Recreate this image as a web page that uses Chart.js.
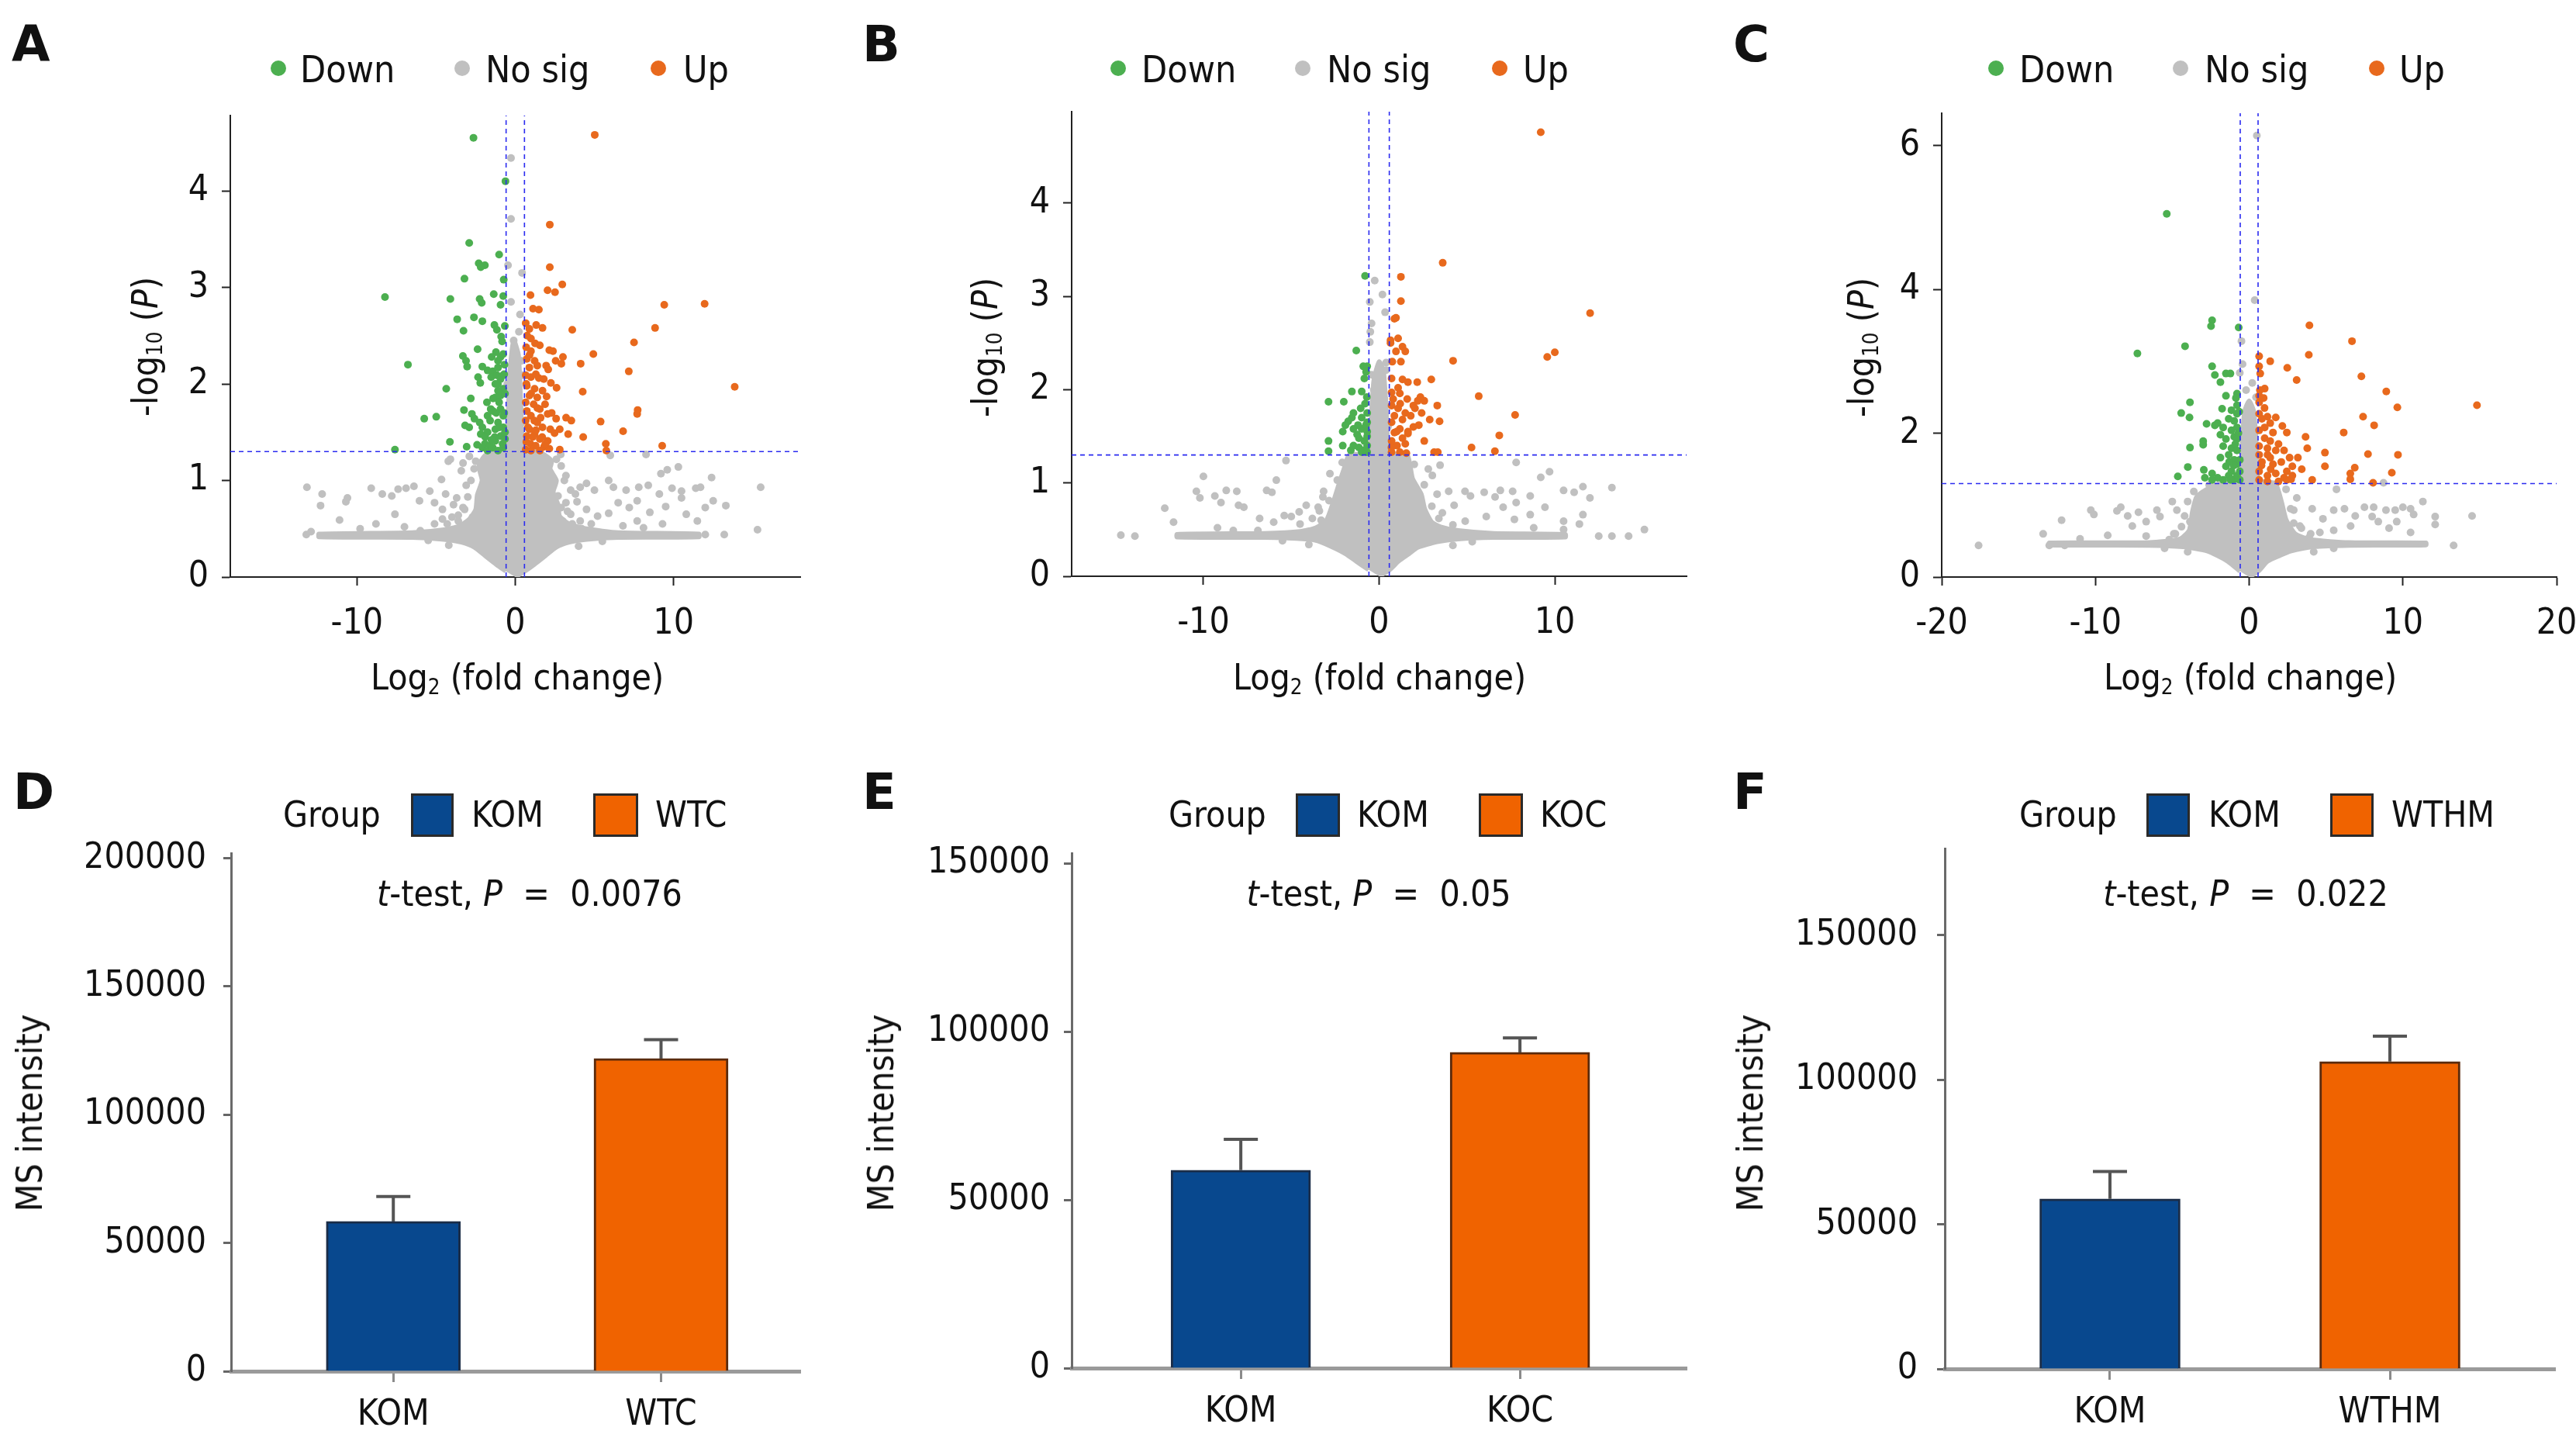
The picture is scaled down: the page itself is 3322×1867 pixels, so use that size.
<!DOCTYPE html>
<html>
<head>
<meta charset="utf-8">
<title>Volcano plots and MS intensity</title>
<script src="https://cdn.jsdelivr.net/npm/chart.js@4.4.1/dist/chart.umd.min.js"></script>
<style>
  html, body { margin: 0; padding: 0; background: #fff; }
  body { width: 3322px; height: 1867px; position: relative; overflow: hidden;
         font-family: 'DejaVu Sans Condensed', 'DejaVu Sans', sans-serif; color: #111; }
  canvas { position: absolute; }
  .t { position: absolute; white-space: nowrap; line-height: 1; }
  .pl { font-family: 'DejaVu Sans', sans-serif; font-weight: bold; font-size: 64px; }
  .leg { font-size: 48px; top: 65px; }
  .ax { font-size: 46px; }
  .xt { top: 850px; transform: translateX(-50%); }
  .yt { transform: translate(-50%, -50%) rotate(-90deg); }
  .ct { transform: translateX(-50%); top: 1129px; }
  .gl { top: 1027px; }
  sub { font-size: 0.6em; vertical-align: -0.22em; line-height: 0; }
  .dot { position: absolute; width: 20px; height: 20px; border-radius: 50%; top: 78px; }
  .box { position: absolute; top: 1023px; height: 56px; box-sizing: border-box; border: 3px solid #2a2a2a; }
</style>
</head>
<body>

<canvas id="cA" width="1100" height="930" style="left:0;top:0"></canvas>
<canvas id="cB" width="1100" height="930" style="left:1100px;top:0"></canvas>
<canvas id="cC" width="1160" height="930" style="left:2220px;top:0"></canvas>
<canvas id="cD" width="1100" height="937" style="left:0;top:930px"></canvas>
<canvas id="cE" width="1100" height="937" style="left:1100px;top:930px"></canvas>
<canvas id="cF" width="1100" height="937" style="left:2220px;top:930px"></canvas>

<!-- panel letters -->
<div class="t pl" style="left:15px;top:25px">A</div>
<div class="t pl" style="left:1112px;top:25px">B</div>
<div class="t pl" style="left:2235px;top:25px">C</div>
<div class="t pl" style="left:17px;top:989px">D</div>
<div class="t pl" style="left:1112px;top:989px">E</div>
<div class="t pl" style="left:2235px;top:989px">F</div>

<!-- volcano legends -->
<span class="dot" style="left:349px;background:#4caf50"></span><div class="t leg" style="left:387px">Down</div>
<span class="dot" style="left:586px;background:#c0c0c0"></span><div class="t leg" style="left:626px">No sig</div>
<span class="dot" style="left:839px;background:#e8691d"></span><div class="t leg" style="left:881px">Up</div>

<span class="dot" style="left:1432px;background:#4caf50"></span><div class="t leg" style="left:1472px">Down</div>
<span class="dot" style="left:1670px;background:#c0c0c0"></span><div class="t leg" style="left:1711px">No sig</div>
<span class="dot" style="left:1924px;background:#e8691d"></span><div class="t leg" style="left:1964px">Up</div>

<span class="dot" style="left:2564px;background:#4caf50"></span><div class="t leg" style="left:2604px">Down</div>
<span class="dot" style="left:2802px;background:#c0c0c0"></span><div class="t leg" style="left:2843px">No sig</div>
<span class="dot" style="left:3055px;background:#e8691d"></span><div class="t leg" style="left:3094px">Up</div>

<!-- volcano axis titles -->
<div class="t ax xt" style="left:667px">Log<sub>2</sub> (fold change)</div>
<div class="t ax xt" style="left:1779px">Log<sub>2</sub> (fold change)</div>
<div class="t ax xt" style="left:2902px">Log<sub>2</sub> (fold change)</div>
<div class="t ax yt" style="left:187px;top:447px">-log<sub>10</sub> (<i>P</i>)</div>
<div class="t ax yt" style="left:1270px;top:448px">-log<sub>10</sub> (<i>P</i>)</div>
<div class="t ax yt" style="left:2400px;top:448px">-log<sub>10</sub> (<i>P</i>)</div>

<!-- bar legends -->
<div class="t ax gl" style="left:365px">Group</div>
<span class="box" style="left:530px;width:55px;background:#08488e"></span><div class="t ax gl" style="left:608px">KOM</div>
<span class="box" style="left:765px;width:58px;background:#f06300"></span><div class="t ax gl" style="left:845px">WTC</div>

<div class="t ax gl" style="left:1507px">Group</div>
<span class="box" style="left:1671px;width:57px;background:#08488e"></span><div class="t ax gl" style="left:1750px">KOM</div>
<span class="box" style="left:1907px;width:57px;background:#f06300"></span><div class="t ax gl" style="left:1986px">KOC</div>

<div class="t ax gl" style="left:2604px">Group</div>
<span class="box" style="left:2768px;width:56px;background:#08488e"></span><div class="t ax gl" style="left:2848px">KOM</div>
<span class="box" style="left:3005px;width:56px;background:#f06300"></span><div class="t ax gl" style="left:3084px">WTHM</div>

<!-- bar annotations and titles -->
<div class="t ax ct" style="left:683px"><i>t</i>-test, <i>P</i> &nbsp;= &nbsp;0.0076</div>
<div class="t ax ct" style="left:1778px"><i>t</i>-test, <i>P</i> &nbsp;= &nbsp;0.05</div>
<div class="t ax ct" style="left:2896px"><i>t</i>-test, <i>P</i> &nbsp;= &nbsp;0.022</div>
<div class="t ax yt" style="left:38px;top:1435px">MS intensity</div>
<div class="t ax yt" style="left:1136px;top:1435px">MS intensity</div>
<div class="t ax yt" style="left:2257px;top:1435px">MS intensity</div>

<script>
// seuils des volcano plots
const pThreshold = 1.3;      // -log10(0.05)
const fcThreshold = 0.58;    // log2(1.5)

// graduations
const aXTicks = [-10, 0, 10];
const aYTicks = [0, 1, 2, 3, 4];
const bXTicks = [-10, 0, 10];
const bYTicks = [0, 1, 2, 3, 4];
const cXTicks = [-20, -10, 0, 10, 20];
const cYTicks = [0, 2, 4, 6];
const dYTicks = [0, 50000, 100000, 150000, 200000];
const eYTicks = [0, 50000, 100000, 150000];
const fYTicks = [0, 50000, 100000, 150000];

// Panel A : [log2 FC, -log10 P]
const aDown = [[-2.64,4.55],[-0.62,4.10],[-2.91,3.46],[-1.02,3.34],[-2.31,3.25],[-1.92,3.23],[-2.18,3.21],[-3.21,3.09],
  [-0.73,3.08],[-1.36,2.93],[-8.23,2.90],[-4.10,2.88],[-2.25,2.88],[-0.76,2.91],[-2.12,2.84],[-0.93,2.82],[-2.61,2.69],
  [-3.67,2.67],[-2.08,2.65],[-1.32,2.61],[-3.27,2.55],[-1.16,2.56],[-0.89,2.49],[-0.83,2.44],[-2.38,2.36],[-3.31,2.29],
  [-1.22,2.33],[-1.49,2.28],[-0.93,2.28],[-0.76,2.31],[-3.11,2.24],[-1.09,2.24],[-6.78,2.20],[-3.04,2.18],[-2.08,2.18],
  [-1.75,2.14],[-1.42,2.13],[-1.09,2.17],[-2.35,2.07],[-1.52,2.07],[-1.16,2.09],[-0.76,2.09],[-2.21,2.01],[-0.93,2.05],
  [-1.26,2.00],[-4.36,1.95],[-0.76,1.95],[-1.09,1.93],[-0.93,1.88],[-2.81,1.85],[-1.26,1.86],[-1.79,1.81],[-1.02,1.81],
  [-1.55,1.74],[-3.24,1.73],[-0.93,1.74],[-2.74,1.69],[-1.42,1.72],[-5.75,1.64],[-4.99,1.66],[-2.58,1.64],[-1.75,1.67],
  [-0.76,1.67],[-3.17,1.57],[-2.25,1.60],[-1.59,1.62],[-1.09,1.60],[-2.08,1.55],[-1.26,1.53],[-0.76,1.55],[-1.75,1.50],
  [-2.91,1.55],[-2.18,1.48],[-0.93,1.46],[-2.41,1.37],[-1.92,1.38],[-1.59,1.36],[-1.26,1.41],[-0.65,1.43],[-4.13,1.40],
  [-3.07,1.35],[-2.08,1.34],[-1.75,1.31],[-1.42,1.34],[-1.09,1.31],[-0.76,1.34],[-7.60,1.32],[-0.65,1.50],[-0.70,1.70],
  [-0.65,1.90],[-0.70,2.10],[-1.00,1.55],[-1.30,1.45],[-1.20,1.70],[-0.80,1.38],[-1.50,1.42],[-1.10,2.00],[-0.68,2.20],
  [-0.66,2.60],[-1.40,1.85],[-1.90,1.45]];
const aUp = [[5.02,4.58],[2.18,3.65],[2.18,3.21],[2.97,3.03],[2.04,2.97],[2.51,2.95],[0.96,2.92],[1.12,2.78],[1.49,2.77],
  [9.41,2.82],[11.96,2.83],[3.60,2.56],[8.83,2.58],[0.66,2.63],[0.89,2.57],[1.32,2.61],[1.72,2.58],[0.99,2.47],[1.55,2.40],
  [7.50,2.43],[0.69,2.38],[0.99,2.34],[2.15,2.35],[2.38,2.34],[3.01,2.28],[4.93,2.31],[0.73,2.26],[1.22,2.24],[2.55,2.24],
  [2.91,2.21],[4.13,2.21],[0.89,2.17],[1.39,2.19],[1.95,2.19],[2.08,2.15],[7.17,2.13],[0.66,2.09],[0.99,2.07],[1.49,2.06],
  [2.25,2.01],[2.61,1.96],[4.26,1.92],[13.86,1.97],[0.73,1.98],[1.22,1.95],[1.72,1.93],[0.89,1.88],[1.39,1.86],[1.98,1.87],
  [0.66,1.81],[1.16,1.79],[1.88,1.79],[1.55,1.74],[7.73,1.73],[7.70,1.69],[0.73,1.72],[0.99,1.67],[2.05,1.69],[2.58,1.64],
  [3.21,1.65],[3.54,1.62],[5.39,1.61],[0.66,1.62],[1.39,1.60],[1.72,1.55],[0.89,1.53],[2.21,1.53],[2.81,1.53],[6.81,1.51],
  [1.22,1.48],[2.48,1.49],[3.34,1.48],[0.73,1.46],[1.55,1.43],[4.29,1.45],[2.05,1.41],[0.96,1.38],[5.72,1.38],[9.28,1.36],
  [1.29,1.36],[1.82,1.35],[0.66,1.32],[0.99,1.31],[1.55,1.31],[2.15,1.33],[2.81,1.32],[5.75,1.31],[0.70,2.00],[0.80,1.55],
  [1.10,1.45],[1.30,2.10],[1.60,1.65],[1.90,1.38],[0.75,2.50],[1.25,2.42],[0.90,2.30],[1.40,1.75],[2.30,1.70],[1.80,2.05],
  [1.20,1.62],[0.70,1.40],[1.00,1.90],[1.70,1.45],[1.30,1.52]];
const aNoSig = [[-0.27,4.34],[-0.27,3.71],[-0.46,3.23],[0.43,3.15],[-0.27,2.85],[0.30,2.72],[0.23,2.54],[-0.10,2.45],
  [0.39,2.24],[0.46,2.09],[-0.50,2.00],[0.20,1.95],[-0.30,1.75],[0.40,1.60],[0.10,1.50],[-0.40,1.45],[2.87,1.27],
  [6.00,1.26],[8.26,1.27],[-4.23,1.20],[-4.10,1.22],[-3.41,1.10],[-4.66,1.01],[-13.16,0.93],[-12.2,0.86],[-12.3,0.74],
  [-11.1,0.59],[-10.7,0.78],[-10.6,0.82],[-9.1,0.92],[-8.4,0.86],[-7.8,0.84],[-7.4,0.91],[-6.9,0.92],[-6.4,0.94],
  [-7.6,0.65],[-6.05,0.79],[-5.4,0.89],[-5.1,0.77],[-4.6,0.70],[-4.4,0.86],[-3.7,0.82],[-3.6,0.58],[-3.2,0.70],
  [-3.0,0.83],[-7.0,0.52],[-6.0,0.48],[-5.1,0.55],[-13.2,0.44],[-12.9,0.47],[-8.8,0.55],[-9.8,0.50],[-4.0,0.62],
  [-2.8,1.00],[-2.6,1.12],[-3.1,0.95],[3.1,1.00],[3.8,0.86],[4.1,0.93],[4.5,0.97],[5.0,0.90],[5.9,1.00],[6.2,0.93],
  [7.0,0.90],[7.8,0.93],[8.4,0.95],[9.1,0.86],[9.2,1.07],[9.6,1.11],[10.3,1.14],[9.9,0.92],[10.5,0.89],[10.5,0.82],
  [11.4,0.92],[11.7,0.93],[12.4,1.03],[15.5,0.93],[13.3,0.74],[12.5,0.79],[12.0,0.72],[11.5,0.58],[10.8,0.65],[9.5,0.73],
  [8.5,0.67],[7.7,0.79],[7.2,0.72],[6.5,0.77],[5.9,0.66],[5.2,0.63],[4.5,0.70],[4.1,0.58],[3.5,0.65],[3.2,0.77],[2.7,0.84],
  [2.4,0.96],[2.2,1.05],[15.3,0.49],[13.2,0.44],[12.0,0.44],[7.7,0.58],[8.1,0.51],[9.3,0.55],[6.8,0.53],[2.9,1.15],
  [2.6,1.22],[-2.5,1.20],[-2.7,0.62],[3.0,0.58],[-1.5,1.28],[1.4,1.28],[-5.5,0.38],[5.5,0.37],[-4.2,0.33],[4.0,0.32],
  [-3.3,0.72],[-3.6,0.64],[-3.1,0.52],[-4.3,0.55],[-3.9,0.75],[-4.6,0.60],[2.9,0.72],[3.3,0.68],[3.6,0.55],[4.2,0.50],
  [3.9,0.78],[4.8,0.55],[-2.9,1.25],[-3.3,1.18],[3.2,1.05],[3.5,0.90]];
const aCore = [[0,0],[0.6,0.06],[1.2,0.13],[1.9,0.22],[2.6,0.31],[3.4,0.36],[4.5,0.39],[6.5,0.41],[11.6,0.415],
  [11.6,0.445],[6.5,0.46],[4.5,0.5],[3.4,0.55],[2.8,0.63],[2.7,0.75],[2.4,0.88],[2.6,1.0],[2.2,1.12],[2.3,1.2],
  [1.8,1.27],[1.0,1.31],[0.5,1.35],[0.35,1.8],[0.2,2.3],[-0.1,2.45],[-0.35,2.1],[-0.45,1.7],[-0.6,1.33],[-1.2,1.3],
  [-1.9,1.26],[-2.3,1.15],[-2.1,1.0],[-2.4,0.85],[-2.5,0.7],[-2.9,0.6],[-3.5,0.53],[-4.5,0.49],[-6.5,0.46],
  [-12.4,0.445],[-12.4,0.415],[-6.5,0.41],[-4.5,0.39],[-3.4,0.36],[-2.6,0.31],[-1.9,0.22],[-1.2,0.13],[-0.6,0.06]];

// Panel B
const bDown = [[-0.80,3.22],[-1.30,2.42],[-0.90,2.25],[-0.68,2.25],[-0.74,2.19],[-0.84,2.12],[-1.55,1.98],[-0.99,1.98],
  [-2.88,1.87],[-2.01,1.87],[-1.05,1.80],[-0.68,1.75],[-1.46,1.75],[-1.55,1.70],[-1.76,1.66],[-1.92,1.62],[-0.99,1.70],
  [-0.68,1.65],[-2.07,1.55],[-1.46,1.58],[-0.99,1.58],[-0.68,1.55],[-2.88,1.45],[-1.15,1.48],[-0.84,1.45],[-0.68,1.50],
  [-2.07,1.40],[-1.46,1.40],[-1.15,1.38],[-0.84,1.35],[-0.68,1.40],[-1.61,1.35],[-2.88,1.34],[-0.99,1.33],[-0.68,1.33],
  [-0.75,1.62],[-1.25,1.52],[-0.70,1.92],[-0.80,1.85],[-1.20,1.62]];
const bUp = [[9.20,4.76],[3.62,3.36],[1.24,3.21],[1.24,2.95],[0.87,2.76],[0.96,2.77],[12.01,2.82],[0.65,2.53],[1.08,2.55],
  [0.65,2.50],[1.33,2.46],[1.49,2.41],[0.96,2.41],[10.0,2.40],[9.57,2.35],[4.21,2.31],[1.24,2.30],[0.71,2.12],[1.33,2.11],
  [1.64,2.08],[2.17,2.08],[2.97,2.11],[1.08,2.02],[0.71,1.97],[1.18,1.96],[2.35,1.92],[2.57,1.88],[2.20,1.88],[5.67,1.93],
  [0.71,1.83],[1.08,1.80],[1.95,1.83],[2.04,1.80],[3.31,1.83],[1.49,1.75],[1.80,1.72],[0.87,1.72],[1.33,1.68],[0.71,1.65],
  [2.42,1.75],[2.88,1.68],[3.44,1.66],[2.26,1.62],[1.95,1.60],[1.18,1.58],[1.64,1.55],[0.87,1.54],[7.74,1.73],[1.33,1.48],
  [1.64,1.53],[0.71,1.45],[1.02,1.40],[1.49,1.42],[2.57,1.45],[6.84,1.51],[5.26,1.38],[6.59,1.34],[0.71,1.33],[1.18,1.33],
  [1.55,1.32],[3.13,1.33],[3.34,1.33],[0.80,1.90],[1.20,1.85],[0.75,2.30],[1.60,1.90],[1.00,1.55],[0.70,1.38]];
const bNoSig = [[-0.25,3.17],[0.19,3.02],[-0.53,2.94],[0.34,2.83],[-0.43,2.71],[-0.50,2.62],[-0.53,2.51],[0.40,2.29],
  [0.40,2.21],[-0.43,2.16],[0.30,1.90],[-0.30,2.00],[0.50,1.60],[-0.45,1.50],[-14.7,0.44],[-13.9,0.43],[-12.2,0.73],
  [-11.7,0.58],[-10.0,1.07],[-10.4,0.91],[-10.2,0.84],[-9.35,0.86],[-9.0,0.79],[-8.7,0.92],[-8.1,0.91],[-8.0,0.76],
  [-7.7,0.74],[-6.8,0.62],[-6.4,0.92],[-6.1,0.90],[-5.85,1.03],[-5.3,1.24],[-6.0,0.58],[-5.4,0.65],[-5.0,0.64],
  [-4.55,0.69],[-4.15,0.76],[-3.47,0.74],[-3.16,0.91],[-2.85,0.81],[-2.38,1.03],[-9.2,0.52],[-8.3,0.49],[-6.9,0.49],
  [3.03,1.08],[2.57,0.98],[3.47,1.19],[3.96,0.91],[4.27,0.76],[4.89,0.91],[5.2,0.86],[5.98,0.90],[6.6,0.85],[6.9,0.92],
  [7.6,0.91],[7.06,0.74],[7.8,0.79],[8.6,0.86],[9.2,1.06],[9.7,1.12],[9.44,0.74],[10.5,0.92],[11.1,0.90],[11.6,0.96],
  [12.0,0.84],[13.25,0.95],[11.6,0.66],[10.5,0.59],[8.6,0.66],[7.7,0.61],[6.1,0.64],[4.9,0.59],[12.5,0.43],[13.25,0.43],
  [14.2,0.43],[15.1,0.50],[7.8,1.22],[8.8,0.52],[10.5,0.50],[11.4,0.56],[-2.1,1.22],[2.0,1.2],[3.4,0.62],[-3.3,0.6],
  [-5.5,0.38],[5.3,0.37],[-4.0,0.34],[4.2,0.33],[-3.4,0.70],[-3.8,0.62],[-4.5,0.56],[-3.2,0.85],[3.0,0.75],[3.6,0.68],
  [4.2,0.55],[3.3,0.88],[2.8,1.15],[-2.8,1.10]];
const bCore = [[0,0],[0.6,0.07],[1.1,0.16],[1.7,0.24],[2.2,0.31],[3.3,0.37],[4.5,0.40],[6.5,0.415],[10.6,0.42],
  [10.6,0.45],[6.5,0.46],[4.5,0.49],[3.5,0.53],[3.0,0.58],[2.6,0.72],[2.4,0.88],[1.9,1.05],[1.6,1.3],[0.6,1.32],
  [0.4,1.8],[0.25,2.2],[0.0,2.3],[-0.3,2.1],[-0.45,1.7],[-0.6,1.32],[-1.7,1.3],[-2.0,1.15],[-2.3,0.98],[-2.6,0.8],
  [-3.0,0.6],[-3.6,0.52],[-4.5,0.48],[-6.5,0.46],[-11.5,0.45],[-11.5,0.42],[-6.5,0.415],[-4.2,0.40],[-3.5,0.38],
  [-2.5,0.3],[-1.9,0.24],[-1.3,0.16],[-0.6,0.07]];

// Panel C
const cDown = [[-5.36,5.05],[-2.41,3.57],[-2.48,3.49],[-0.68,3.47],[-4.17,3.21],[-7.27,3.11],[-2.41,2.93],[-1.51,2.83],
  [-1.22,2.83],[-2.23,2.81],[-1.87,2.71],[-0.79,2.55],[-0.86,2.49],[-1.51,2.52],[-0.79,2.39],[-3.85,2.43],[-1.76,2.34],
  [-1.15,2.32],[-0.79,2.27],[-4.42,2.28],[-3.88,2.22],[-1.33,2.20],[-0.97,2.17],[-2.05,2.14],[-2.77,2.13],[-2.23,2.11],
  [-1.69,2.08],[-1.15,2.04],[-0.79,2.08],[-1.87,1.98],[-1.51,1.92],[-0.97,1.95],[-0.79,1.92],[-2.99,1.89],[-3.85,1.80],
  [-2.99,1.84],[-1.69,1.82],[-1.15,1.79],[-0.79,1.76],[-1.33,1.70],[-1.87,1.66],[-0.97,1.63],[-0.79,1.57],[-1.51,1.54],
  [-1.15,1.47],[-3.99,1.53],[-2.95,1.49],[-2.88,1.38],[-4.64,1.40],[-2.41,1.44],[-2.05,1.38],[-1.69,1.35],[-1.33,1.41],
  [-0.97,1.36],[-0.79,1.41],[-0.61,1.63],[-0.61,1.47],[-0.61,1.35],[-2.41,1.35],[-0.65,2.30],[-0.70,2.00],[-1.00,1.55],
  [-1.20,1.35],[-0.90,1.85],[-1.30,1.60]];
const cUp = [[3.92,3.50],[6.69,3.28],[0.65,3.07],[3.88,3.09],[1.37,3.00],[2.48,2.91],[0.65,2.93],[0.72,2.83],[3.09,2.74],
  [7.30,2.79],[1.01,2.62],[8.92,2.58],[0.65,2.52],[0.94,2.49],[0.65,2.43],[9.64,2.36],[14.82,2.39],[0.65,2.27],[1.19,2.23],
  [0.83,2.20],[1.73,2.22],[1.37,2.14],[7.41,2.23],[8.13,2.11],[2.16,2.10],[1.01,2.08],[1.55,2.01],[2.45,2.01],[0.65,2.04],
  [6.15,2.01],[3.67,1.95],[1.01,1.93],[1.37,1.89],[1.91,1.85],[0.65,1.82],[1.19,1.79],[1.73,1.76],[3.78,1.79],[2.27,1.76],
  [0.65,1.70],[1.37,1.66],[2.63,1.66],[3.17,1.66],[4.93,1.73],[7.73,1.71],[9.68,1.70],[0.83,1.60],[1.55,1.57],[2.09,1.60],
  [2.81,1.54],[3.42,1.50],[0.65,1.47],[1.19,1.41],[1.73,1.44],[2.45,1.47],[2.81,1.41],[2.27,1.38],[2.73,1.36],[4.93,1.54],
  [6.87,1.52],[6.58,1.44],[9.28,1.45],[4.10,1.35],[6.58,1.36],[8.06,1.31],[0.65,1.35],[1.19,1.33],[1.91,1.33],[2.45,1.35],
  [0.80,1.55],[1.20,1.70],[0.70,2.60],[1.00,2.35],[1.40,1.50]];
const cNoSig = [[0.50,6.14],[0.36,3.85],[-0.50,3.28],[-0.43,2.96],[-0.61,2.84],[0.20,2.70],[-0.20,2.60],[0.45,2.50],
  [8.74,1.31],[5.68,1.22],[-17.6,0.44],[-13.4,0.60],[-12.2,0.79],[13.3,0.44],[14.5,0.85],[11.3,1.05],[12.1,0.84],
  [12.1,0.73],[-13.0,0.44],[-12.0,0.44],[-10.3,0.93],[-10.1,0.87],[-8.35,0.97],[-8.6,0.92],[-7.9,0.85],[-7.2,0.90],
  [-6.0,0.93],[-5.0,1.05],[-4.7,0.93],[-5.8,0.84],[-6.7,0.77],[-7.6,0.71],[-9.2,0.58],[-11.0,0.53],[-6.7,0.57],
  [-4.9,0.60],[-3.85,0.77],[-3.5,0.97],[-3.1,1.09],[-3.6,1.19],[2.9,0.93],[3.3,0.71],[4.1,0.95],[4.8,0.81],[5.5,0.93],
  [6.2,0.95],[6.9,0.85],[7.5,0.97],[8.1,0.97],[8.9,0.93],[9.5,0.93],[10.0,0.97],[10.5,0.95],[10.7,0.87],[9.6,0.77],
  [8.4,0.77],[8.0,0.84],[6.6,0.71],[5.5,0.65],[4.6,0.62],[3.9,0.55],[9.1,0.68],[10.5,0.62],[-2.6,1.28],[2.4,1.22],
  [-5.5,0.40],[5.5,0.40],[-4.0,0.35],[4.2,0.35],[-4.4,0.70],[-4.8,0.60],[-4.2,0.85],[-5.2,0.52],[2.9,0.75],[3.4,0.68],
  [4.0,0.60],[2.7,0.95],[3.1,1.10],[-4.0,1.05]];
const cCore = [[0,0],[0.6,0.08],[1.2,0.22],[2.0,0.30],[2.7,0.36],[4.2,0.42],[6.5,0.44],[11.5,0.445],[11.5,0.475],
  [6.5,0.48],[4.0,0.52],[3.0,0.6],[2.4,0.8],[2.1,1.05],[1.7,1.3],[0.6,1.35],[0.45,1.9],[0.3,2.3],[0.0,2.45],[-0.3,2.3],
  [-0.45,1.9],[-0.6,1.35],[-1.4,1.34],[-2.4,1.26],[-3.4,1.12],[-3.7,0.9],[-3.9,0.65],[-4.5,0.53],[-6.5,0.48],
  [-13.0,0.475],[-13.0,0.445],[-6.5,0.44],[-4.3,0.42],[-2.7,0.36],[-1.4,0.22],[-0.6,0.08]];

// Panels D, E, F : intensité MS (moyenne + erreur)
const dGroups = ['KOM', 'WTC'];
const dMeans = [58400, 121900];
const dErrors = [9700, 7400];
const eGroups = ['KOM', 'KOC'];
const eMeans = [58800, 93800];
const eErrors = [9200, 4300];
const fGroups = ['KOM', 'WTHM'];
const fMeans = [58800, 106300];
const fErrors = [9500, 8800];

const FONT = "'DejaVu Sans Condensed', 'DejaVu Sans', sans-serif";
const GREEN = '#4caf50', GREY = '#c0c0c0', ORANGE = '#e8691d', DASH = '#2b2bf0';
const BAR_BLUE = '#08488e', BAR_ORANGE = '#f06300';

Chart.defaults.font.family = FONT;
Chart.defaults.font.size = 46;
Chart.defaults.color = '#111';

function xy(list) {
    return list.map(p => ({ x: p[0], y: p[1] }));
}

// impose exactement les graduations voulues
function fixedTicks(values) {
    return scale => {
        scale.ticks = values.map(v => ({ value: v }));
    };
}

function dashed(points) {
    return { data: points, showLine: true, pointRadius: 0, borderColor: DASH, borderWidth: 1.6,
             borderDash: [6, 5], order: 0 };
}

function volcano(id, c) {
    new Chart(document.getElementById(id), {
        type: 'scatter',
        data: {
            datasets: [
                dashed([{ x: c.xMin, y: pThreshold }, { x: c.xMax, y: pThreshold }]),
                dashed([{ x: -fcThreshold, y: 0 }, { x: -fcThreshold, y: c.yMax }]),
                dashed([{ x: fcThreshold, y: 0 }, { x: fcThreshold, y: c.yMax }]),
                { label: 'Down', data: xy(c.down), backgroundColor: GREEN, order: 1 },
                { label: 'Up', data: xy(c.up), backgroundColor: ORANGE, order: 1 },
                { label: 'No sig', data: xy(c.noSig), backgroundColor: GREY, order: 2 },
                { label: 'No sig (dense)', data: xy(c.core), showLine: true, fill: 'shape', tension: 0.2,
                  backgroundColor: GREY, borderColor: GREY, borderWidth: 6, pointRadius: 0, order: 3 }
            ]
        },
        options: {
            responsive: false, animation: false, devicePixelRatio: 1, events: [],
            layout: { padding: { top: c.box.top, right: c.box.right, left: 0, bottom: 0 } },
            plugins: { legend: { display: false }, tooltip: { enabled: false } },
            elements: { point: { radius: 5, hoverRadius: 5, borderWidth: 0 } },
            scales: {
                x: {
                    type: 'linear', min: c.xMin, max: c.xMax,
                    ticks: { autoSkip: false, padding: 22, color: '#111', callback: v => String(v) },
                    afterBuildTicks: fixedTicks(c.xTicks),
                    afterFit: s => { s.height = c.box.xh; },
                    grid: { drawOnChartArea: false, tickLength: 11, tickWidth: 2, tickColor: '#222' },
                    border: { color: '#222', width: 2 }
                },
                y: {
                    type: 'linear', min: 0, max: c.yMax,
                    ticks: { autoSkip: false, padding: 17, color: '#111', callback: v => String(v) },
                    afterBuildTicks: fixedTicks(c.yTicks),
                    afterFit: s => { s.width = c.box.yw; },
                    grid: { drawOnChartArea: false, tickLength: 11, tickWidth: 2, tickColor: '#222' },
                    border: { color: '#222', width: 2 }
                }
            }
        }
    });
}

// barres d'erreur (seulement vers le haut)
const errorBars = {
    id: 'errorBars',
    afterDatasetsDraw(chart, args, opts) {
        const { ctx } = chart;
        const yScale = chart.scales.y;
        const meta = chart.getDatasetMeta(0);
        const values = chart.data.datasets[0].data;
        ctx.save();
        ctx.strokeStyle = '#555';
        ctx.lineWidth = 4;
        meta.data.forEach((bar, i) => {
            const top = yScale.getPixelForValue(values[i].y + opts.errors[i]);
            ctx.beginPath();
            ctx.moveTo(bar.x, bar.y);
            ctx.lineTo(bar.x, top);
            ctx.moveTo(bar.x - 22, top);
            ctx.lineTo(bar.x + 22, top);
            ctx.stroke();
        });
        ctx.restore();
    }
};

function barPanel(id, c) {
    new Chart(document.getElementById(id), {
        type: 'bar',
        data: {
            datasets: [{
                data: c.means.map((m, i) => ({ x: i + 1, y: m })),
                backgroundColor: [BAR_BLUE, BAR_ORANGE],
                borderColor: ['#1b2d48', '#5a2a0c'],
                borderWidth: 3,
                barThickness: c.thickness
            }]
        },
        options: {
            responsive: false, animation: false, devicePixelRatio: 1, events: [],
            layout: { padding: { top: c.box.top, right: c.box.right, left: 0, bottom: 0 } },
            plugins: { legend: { display: false }, tooltip: { enabled: false }, errorBars: { errors: c.errors } },
            scales: {
                x: {
                    type: 'linear', offset: false, min: c.xMin, max: c.xMax,
                    ticks: { autoSkip: false, padding: 15, color: '#111', callback: v => c.groups[v - 1] || '' },
                    afterBuildTicks: fixedTicks(c.groups.map((g, i) => i + 1)),
                    afterFit: s => { s.height = c.box.xh; },
                    grid: { offset: false, drawOnChartArea: false, tickLength: 14, tickWidth: 3, tickColor: '#8a8a8a' },
                    border: { color: '#9a9a9a', width: 5 }
                },
                y: {
                    min: 0, max: c.yMax,
                    ticks: { autoSkip: false, padding: c.yPad, color: '#111', callback: v => String(v) },
                    afterBuildTicks: fixedTicks(c.yTicks),
                    afterFit: s => { s.width = c.box.yw; },
                    grid: { drawOnChartArea: false, tickLength: 10, tickWidth: 3, tickColor: '#666' },
                    border: { color: '#6a6a6a', width: 3 }
                }
            }
        },
        plugins: [errorBars]
    });
}

volcano('cA', { down: aDown, up: aUp, noSig: aNoSig, core: aCore, xMin: -18, xMax: 18, yMax: 4.78,
                xTicks: aXTicks, yTicks: aYTicks, box: { top: 149, right: 68, yw: 297, xh: 186 } });
volcano('cB', { down: bDown, up: bUp, noSig: bNoSig, core: bCore, xMin: -17.5, xMax: 17.5, yMax: 4.98,
                xTicks: bXTicks, yTicks: bYTicks, box: { top: 144, right: 25, yw: 282, xh: 187 } });
volcano('cC', { down: cDown, up: cUp, noSig: cNoSig, core: cCore, xMin: -20, xMax: 20, yMax: 6.45,
                xTicks: cXTicks, yTicks: cYTicks, box: { top: 146, right: 83, yw: 284, xh: 186 } });

barPanel('cD', { groups: dGroups, means: dMeans, errors: dErrors, yMax: 202000, yTicks: dYTicks,
                 xMin: 0.394, xMax: 2.52, thickness: 173, yPad: 22, box: { top: 170, right: 68, yw: 298, xh: 99 } });
barPanel('cE', { groups: eGroups, means: eMeans, errors: eErrors, yMax: 153000, yTicks: eYTicks,
                 xMin: 0.394, xMax: 2.597, thickness: 180, yPad: 18, box: { top: 170, right: 25, yw: 282, xh: 103 } });
barPanel('cF', { groups: fGroups, means: fMeans, errors: fErrors, yMax: 180000, yTicks: fYTicks,
                 xMin: 0.41, xMax: 2.59, thickness: 181, yPad: 25, box: { top: 164, right: 25, yw: 288, xh: 102 } });
</script>
</body>
</html>
